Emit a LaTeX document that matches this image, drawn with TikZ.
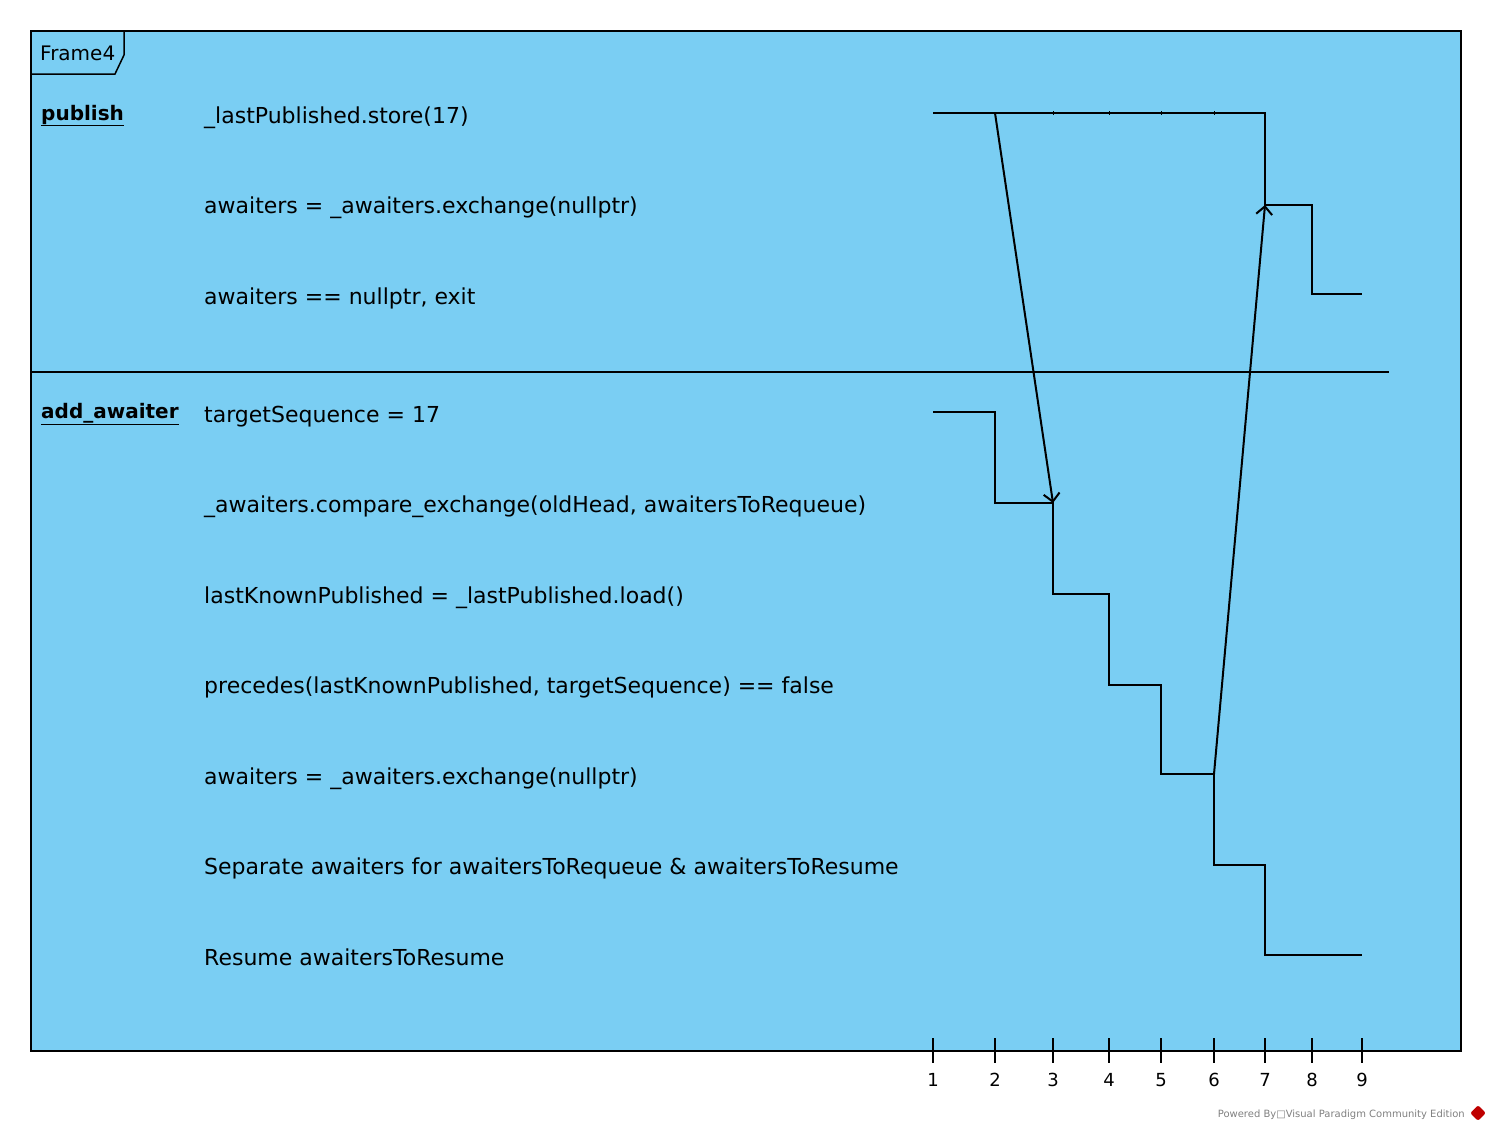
\documentclass[tikz,border=0pt]{standalone}
\usepackage{fontspec}
\setmainfont{DejaVu Sans}
\usetikzlibrary{arrows.meta, positioning, calc}
\definecolor{framefill}{RGB}{122,206,243}
\tikzstyle{frameline} = [line width=1.5pt, draw=black]
\tikzstyle{stateline} = [line width=2pt, line join=miter]
\tikzstyle{message} = [line width=2pt, -{Straight Barb[length=8pt,width=16pt,line width=2pt]}]
\tikzstyle{lifelabel} = [anchor=base west, inner sep=0pt, font=\bfseries\fontsize{20}{24}\selectfont]
\tikzstyle{statetext} = [anchor=base west, inner sep=0pt, font=\fontsize{22}{26}\selectfont]
\tikzstyle{ticklabel} = [anchor=base, inner sep=0pt, font=\fontsize{18}{22}\selectfont]

\begin{document}
\begin{tikzpicture}[x=1pt, y=-1pt]
    \useasboundingbox (0,0) rectangle (1492,1130);
    % Frame
    \draw[frameline, fill=framefill] (31,31) rectangle (1461,1051);
    \draw[line width=1.5pt] (31,31) -- (124,31) -- (124,55) -- (115,74) -- (31,74);
    \node[anchor=base west, inner sep=0pt, font=\fontsize{20}{24}\selectfont] (tag) at (40,60) {Frame4};
    \draw[line width=1.5pt] (31,372) -- (1389,372);

    % Lifelines
    \node[lifelabel] (publish) at (41,120) {\underline{publish}};
    \node[lifelabel] (addawaiter) at (41,418) {\underline{add\_awaiter}};

    % States of publish
    \node[statetext] (p1) at (204,123) {\_lastPublished.store(17)};
    \node[statetext] (p2) at (204,213) {awaiters = \_awaiters.exchange(nullptr)};
    \node[statetext] (p3) at (204,304) {awaiters == nullptr, exit};

    % States of add_awaiter
    \node[statetext] (a1) at (204,422) {targetSequence = 17};
    \node[statetext] (a2) at (204,512) {\_awaiters.compare\_exchange(oldHead, awaitersToRequeue)};
    \node[statetext] (a3) at (204,603) {lastKnownPublished = \_lastPublished.load()};
    \node[statetext] (a4) at (204,693) {precedes(lastKnownPublished, targetSequence) == false};
    \node[statetext] (a5) at (204,784) {awaiters = \_awaiters.exchange(nullptr)};
    \node[statetext] (a6) at (204,874) {Separate awaiters for awaitersToRequeue \& awaitersToResume};
    \node[statetext] (a7) at (204,965) {Resume awaitersToResume};

    % Time axis
    \foreach \t/\x in {1/933, 2/995, 3/1053, 4/1109, 5/1161, 6/1214, 7/1265, 8/1312, 9/1362} {
        \coordinate (t\t) at (\x,1051);
        \draw[line width=2pt] (\x,1038) -- (\x,1063);
        \node[ticklabel] (l\t) at (\x,1086) {\t};
    }

    % Timing of publish
    \coordinate (ps1) at (933,113);
    \coordinate (ps2) at (995,113);
    \coordinate (ps7) at (1265,113);
    \coordinate (pr7) at (1265,205);
    \coordinate (pr8) at (1312,205);
    \coordinate (pe8) at (1312,294);
    \coordinate (pe9) at (1362,294);
    \draw[stateline] (ps1) -- (ps7) -- (pr7) -- (pr8) -- (pe8) -- (pe9);
    \foreach \x in {1053, 1109, 1161, 1214}
        \draw[line width=1pt] (\x,111) -- (\x,115);

    % Timing of add_awaiter
    \coordinate (as1) at (933,412);
    \coordinate (as2) at (995,412);
    \coordinate (ac2) at (995,503);
    \coordinate (ac3) at (1053,503);
    \coordinate (al3) at (1053,594);
    \coordinate (al4) at (1109,594);
    \coordinate (ap4) at (1109,685);
    \coordinate (ap5) at (1161,685);
    \coordinate (ax5) at (1161,774);
    \coordinate (ax6) at (1214,774);
    \coordinate (ad6) at (1214,865);
    \coordinate (ad7) at (1265,865);
    \coordinate (ar7) at (1265,955);
    \coordinate (ar9) at (1362,955);
    \draw[stateline] (as1) -- (as2) -- (ac2) -- (ac3) -- (al3) -- (al4) -- (ap4) -- (ap5)
        -- (ax5) -- (ax6) -- (ad6) -- (ad7) -- (ar7) -- (ar9);

    % Messages
    \draw[message] (ps2) -- (ac3);
    \draw[message] (ax6) -- (pr7);

    % Watermark
    \node[anchor=base east, inner sep=0pt, text=gray, font=\fontsize{10}{12}\selectfont] (vp) at (1465,1117) {Powered By□Visual Paradigm Community Edition};
    \node[fill=red!75!black, rotate=45, minimum size=11pt, inner sep=0pt, rounded corners=2pt] (logo) at (1478,1113) {};
\end{tikzpicture}
\end{document}
